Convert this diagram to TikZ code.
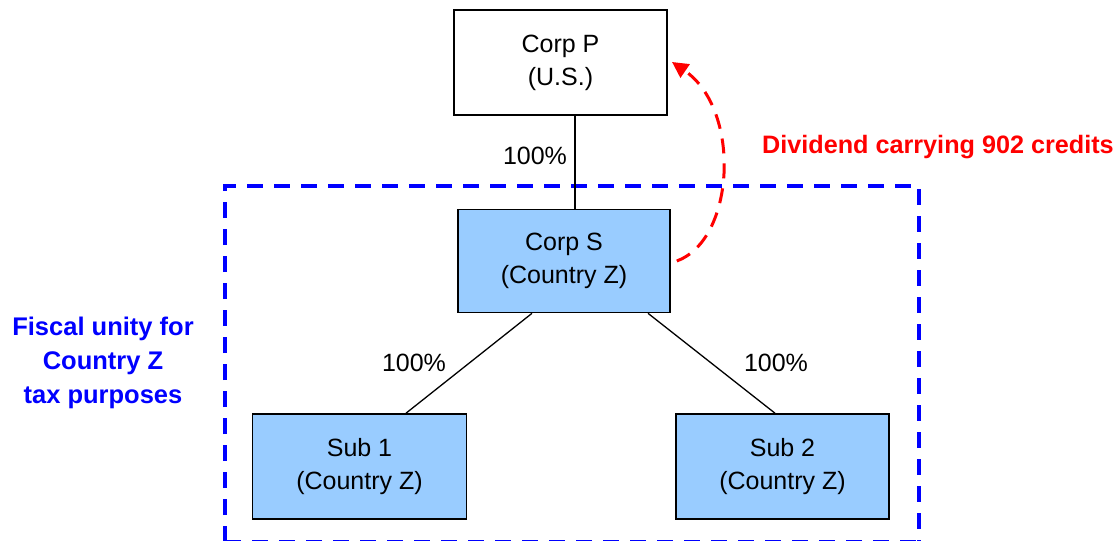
\documentclass[tikz,border=0pt]{standalone}
\usepackage{fontspec}
\setmainfont{Liberation Sans}
\usetikzlibrary{arrows.meta}
\definecolor{boxblue}{HTML}{99CCFF}
\begin{document}
\begin{tikzpicture}[x=1pt,y=-1pt,
  entity/.style={draw=black,line width=1.6pt,align=center,inner sep=0pt,
    font=\fontsize{25}{33}\selectfont},
  link/.style={draw=black,line width=1.3pt},
  pct/.style={font=\fontsize{25}{28}\selectfont,inner sep=0pt},
  unity/.style={draw=blue,line width=3.5pt,dash pattern=on 16pt off 11pt},
  flow/.style={draw=red,line width=3pt,dash pattern=on 15pt off 10pt,
    -{Triangle[length=16pt,width=16pt]}}]
\useasboundingbox (0,0) rectangle (1120,541);

% fiscal unity boundary (bottom edge runs along the lower margin)
\draw[unity] (225,542) -- (225,186) -- (919,186) -- (919,542);
\draw[unity] (225,542) -- (919,542);

% entities
\node[entity,fill=white,minimum width=213pt,minimum height=105pt] (P) at (560.5,62.5) {Corp P\\(U.S.)};
\node[entity,fill=boxblue,minimum width=212pt,minimum height=103pt] (S) at (564,261) {Corp S\\(Country Z)};
\node[entity,fill=boxblue,minimum width=214pt,minimum height=105pt] (A) at (359.5,466.5) {Sub 1\\(Country Z)};
\node[entity,fill=boxblue,minimum width=213pt,minimum height=105pt] (B) at (782.5,466.5) {Sub 2\\(Country Z)};

% ownership links
\draw[link] (P.south -| 575,0) -- (S.north -| 575,0);
\coordinate (s1) at ([xshift=-32pt]S.south);
\coordinate (s2) at ([xshift=84pt]S.south);
\draw[link] (s1) -- (A.north -| 406,0);
\draw[link] (s2) -- (B.north -| 775,0);

\node[pct] (p0) at (535,156) {100\%};
\node[pct] (p1) at (414,363) {100\%};
\node[pct] (p2) at (776,363) {100\%};

% dividend flow
\coordinate (d0) at ([xshift=6pt]S.east);
\coordinate (d1) at (672,62);
\draw[flow] (d0) .. controls (735,240) and (742,110) .. (d1);
\node[font=\bfseries\fontsize{25.2}{28}\selectfont,text=red,anchor=west,inner sep=0pt] (div) at (762,147) {Dividend carrying 902 credits};

\node[font=\bfseries\fontsize{25.5}{34}\selectfont,text=blue,align=center,inner sep=0pt] (fu) at (103,363) {Fiscal unity for\\Country Z\\tax purposes};
\end{tikzpicture}
\end{document}
